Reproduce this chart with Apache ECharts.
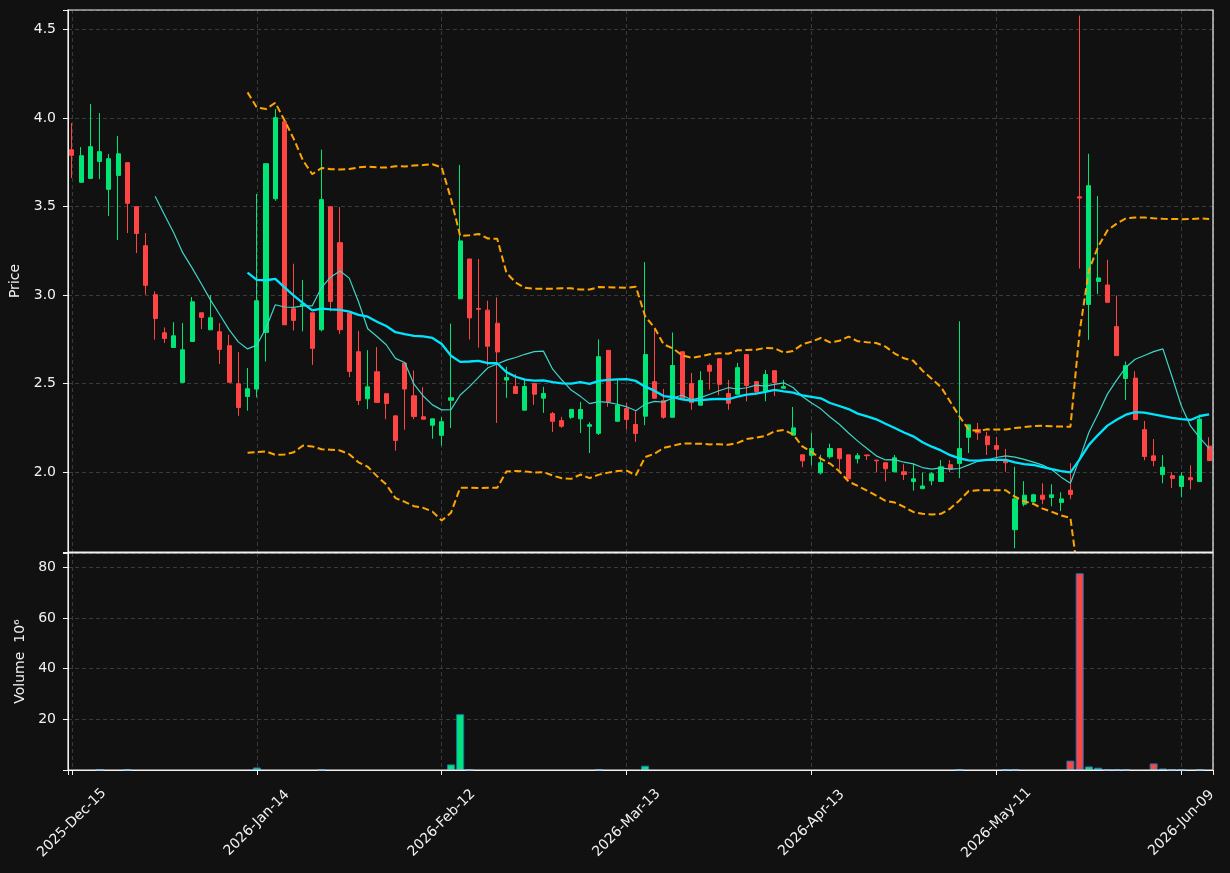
<!DOCTYPE html>
<html>
<head>
<meta charset="utf-8">
<script src="https://cdn.jsdelivr.net/npm/echarts@6/dist/echarts.min.js"></script>
<style>
html, body { margin: 0; padding: 0; background: #111111; }
#view { width: 1230px; height: 873px; }
</style>
</head>
<body>
<div id="view"></div>
<script>
// trading days (index = x position)
var dates = [
  '2025-12-15','2025-12-16','2025-12-17','2025-12-18','2025-12-19','2025-12-22','2025-12-23','2025-12-24','2025-12-26','2025-12-29',
  '2025-12-30','2025-12-31','2026-01-02','2026-01-05','2026-01-06','2026-01-07','2026-01-08','2026-01-09','2026-01-12','2026-01-13',
  '2026-01-14','2026-01-15','2026-01-16','2026-01-20','2026-01-21','2026-01-22','2026-01-23','2026-01-26','2026-01-27','2026-01-28',
  '2026-01-29','2026-01-30','2026-02-02','2026-02-03','2026-02-04','2026-02-05','2026-02-06','2026-02-09','2026-02-10','2026-02-11',
  '2026-02-12','2026-02-13','2026-02-17','2026-02-18','2026-02-19','2026-02-20','2026-02-23','2026-02-24','2026-02-25','2026-02-26',
  '2026-02-27','2026-03-02','2026-03-03','2026-03-04','2026-03-05','2026-03-06','2026-03-09','2026-03-10','2026-03-11','2026-03-12',
  '2026-03-13','2026-03-16','2026-03-17','2026-03-18','2026-03-19','2026-03-20','2026-03-23','2026-03-24','2026-03-25','2026-03-26',
  '2026-03-27','2026-03-30','2026-03-31','2026-04-01','2026-04-02','2026-04-06','2026-04-07','2026-04-08','2026-04-09','2026-04-10',
  '2026-04-13','2026-04-14','2026-04-15','2026-04-16','2026-04-17','2026-04-20','2026-04-21','2026-04-22','2026-04-23','2026-04-24',
  '2026-04-27','2026-04-28','2026-04-29','2026-04-30','2026-05-01','2026-05-04','2026-05-05','2026-05-06','2026-05-07','2026-05-08',
  '2026-05-11','2026-05-12','2026-05-13','2026-05-14','2026-05-15','2026-05-18','2026-05-19','2026-05-20','2026-05-21','2026-05-22',
  '2026-05-26','2026-05-27','2026-05-28','2026-05-29','2026-06-01','2026-06-02','2026-06-03','2026-06-04','2026-06-05','2026-06-08',
  '2026-06-09','2026-06-10','2026-06-11','2026-06-12'
];
var monthNames = ['Jan','Feb','Mar','Apr','May','Jun','Jul','Aug','Sep','Oct','Nov','Dec'];

var opens = [
  3.821, 3.637, 3.659, 3.755, 3.597, 3.676, 3.748, 3.499, 3.279, 3.002,
  2.787, 2.704, 2.507, 2.738, 2.900, 2.804, 2.793, 2.714, 2.499, 2.427,
  2.469, 2.789, 3.544, 3.979, 2.923, 2.940, 2.900, 2.804, 3.499, 3.296,
  2.898, 2.680, 2.414, 2.567, 2.443, 2.318, 2.616, 2.431, 2.313, 2.265,
  2.208, 2.406, 2.979, 3.204, 2.924, 2.915, 2.841, 2.520, 2.484, 2.350,
  2.501, 2.418, 2.331, 2.291, 2.310, 2.301, 2.259, 2.219, 2.688, 2.287,
  2.359, 2.269, 2.316, 2.511, 2.404, 2.310, 2.680, 2.500, 2.378, 2.603,
  2.641, 2.444, 2.440, 2.664, 2.511, 2.457, 2.573, 2.474, 2.209, 2.098,
  2.095, 1.996, 2.087, 2.133, 2.098, 2.076, 2.097, 2.068, 2.053, 2.002,
  2.002, 1.947, 1.907, 1.951, 1.947, 2.042, 2.049, 2.197, 2.241, 2.203,
  2.150, 2.066, 1.675, 1.819, 1.833, 1.870, 1.857, 1.829, 1.898, 3.555,
  2.947, 3.077, 3.057, 2.822, 2.529, 2.531, 2.240, 2.092, 1.986, 1.980,
  1.919, 1.969, 1.947, 2.147
];
var highs = [
  3.972, 3.836, 4.079, 4.028, 3.797, 3.898, 3.748, 3.499, 3.350, 3.021,
  2.817, 2.847, 2.842, 2.989, 2.900, 3.000, 2.842, 2.776, 2.678, 2.588,
  3.571, 3.742, 4.051, 3.979, 3.177, 3.085, 2.900, 3.821, 3.499, 3.497,
  2.898, 2.798, 2.689, 2.706, 2.443, 2.318, 2.616, 2.574, 2.480, 2.301,
  2.310, 2.839, 3.735, 3.204, 3.204, 2.968, 2.987, 2.595, 2.554, 2.527,
  2.501, 2.482, 2.340, 2.312, 2.354, 2.397, 2.282, 2.750, 2.688, 2.520,
  2.391, 2.344, 3.186, 2.805, 2.470, 2.789, 2.680, 2.560, 2.570, 2.613,
  2.641, 2.521, 2.617, 2.664, 2.511, 2.577, 2.573, 2.521, 2.368, 2.098,
  2.222, 2.098, 2.161, 2.133, 2.098, 2.108, 2.097, 2.068, 2.053, 2.097,
  2.045, 2.049, 1.998, 2.000, 2.068, 2.068, 2.852, 2.267, 2.278, 2.227,
  2.199, 2.131, 2.030, 1.949, 1.878, 1.937, 1.931, 1.886, 2.051, 4.579,
  3.798, 3.559, 3.199, 2.998, 2.625, 2.570, 2.289, 2.187, 2.096, 2.000,
  2.000, 2.039, 2.324, 2.197
];
var lows = [
  3.661, 3.633, 3.655, 3.655, 3.446, 3.311, 3.350, 3.237, 3.002, 2.748,
  2.729, 2.704, 2.507, 2.738, 2.808, 2.804, 2.610, 2.507, 2.318, 2.347,
  2.422, 2.625, 3.533, 2.832, 2.800, 2.795, 2.606, 2.795, 2.908, 2.780,
  2.537, 2.379, 2.356, 2.394, 2.299, 2.121, 2.239, 2.299, 2.299, 2.189,
  2.149, 2.250, 2.979, 2.749, 2.703, 2.601, 2.278, 2.420, 2.444, 2.350,
  2.380, 2.335, 2.227, 2.250, 2.301, 2.221, 2.108, 2.210, 2.369, 2.287,
  2.241, 2.171, 2.265, 2.417, 2.301, 2.310, 2.410, 2.352, 2.378, 2.466,
  2.434, 2.352, 2.440, 2.400, 2.438, 2.400, 2.429, 2.474, 2.209, 2.028,
  2.038, 1.987, 2.076, 2.013, 1.962, 2.049, 2.068, 2.000, 1.947, 2.002,
  1.956, 1.896, 1.907, 1.926, 1.947, 2.000, 1.966, 2.108, 2.182, 2.097,
  2.053, 2.002, 1.570, 1.807, 1.827, 1.819, 1.807, 1.780, 1.847, 3.150,
  2.747, 3.006, 2.959, 2.658, 2.407, 2.297, 2.067, 2.033, 1.937, 1.910,
  1.858, 1.902, 1.947, 2.065
];
var closes = [
  3.789, 3.787, 3.838, 3.810, 3.770, 3.798, 3.518, 3.348, 3.055, 2.868,
  2.755, 2.770, 2.691, 2.962, 2.874, 2.872, 2.693, 2.507, 2.365, 2.471,
  2.968, 3.742, 4.002, 2.832, 2.857, 2.950, 2.699, 3.539, 2.964, 2.804,
  2.569, 2.405, 2.482, 2.394, 2.388, 2.179, 2.469, 2.314, 2.299, 2.301,
  2.285, 2.420, 3.306, 2.871, 2.920, 2.711, 2.679, 2.535, 2.444, 2.484,
  2.440, 2.444, 2.287, 2.259, 2.354, 2.354, 2.268, 2.652, 2.397, 2.378,
  2.297, 2.218, 2.664, 2.417, 2.310, 2.602, 2.410, 2.393, 2.517, 2.570,
  2.496, 2.389, 2.590, 2.489, 2.455, 2.551, 2.506, 2.483, 2.250, 2.064,
  2.133, 2.053, 2.133, 2.076, 1.962, 2.093, 2.093, 2.064, 2.019, 2.081,
  1.987, 1.962, 1.922, 1.991, 2.030, 2.017, 2.133, 2.267, 2.222, 2.155,
  2.129, 2.053, 1.849, 1.870, 1.872, 1.847, 1.872, 1.849, 1.874, 3.548,
  3.618, 3.097, 2.959, 2.658, 2.601, 2.297, 2.088, 2.065, 2.028, 1.965,
  1.978, 1.957, 2.299, 2.065
];
// volume in millions
var volumes = [
  0, 0, 0, 0.2, 0, 0, 0.2, 0, 0, 0,
  0, 0, 0, 0, 0, 0, 0, 0, 0, 0,
  1.0, 0, 0, 0, 0, 0, 0, 0.15, 0, 0,
  0, 0, 0, 0, 0, 0, 0, 0, 0, 0,
  0, 2.2, 22.0, 0.2, 0, 0, 0, 0, 0, 0,
  0, 0, 0, 0, 0, 0, 0, 0.2, 0, 0,
  0, 0, 1.7, 0, 0, 0, 0, 0, 0, 0,
  0, 0, 0, 0, 0, 0, 0, 0, 0, 0,
  0, 0, 0, 0, 0, 0, 0, 0, 0, 0,
  0, 0, 0, 0, 0, 0, 0.2, 0, 0, 0,
  0, 0.2, 0.2, 0, 0, 0, 0, 0, 3.7, 77.6,
  1.4, 0.9, 0.2, 0.2, 0.2, 0, 0, 2.6, 0.6, 0.2,
  0.2, 0, 0.2, 0
];

var upColor = '#00e676';
var downColor = '#ff4444';
var fg = '#f2f2f2';

/* indicators derived from closes: SMA10, SMA20, Bollinger(20, 2) */
function sma(src, n) {
  return src.map(function (v, i) {
    if (i < n - 1) return [i, null];
    var s = 0;
    for (var k = i - n + 1; k <= i; k++) s += src[k];
    return [i, s / n];
  });
}
function band(src, n, mult) {
  return src.map(function (v, i) {
    if (i < n - 1) return [i, null];
    var s = 0, k;
    for (k = i - n + 1; k <= i; k++) s += src[k];
    var m = s / n, q = 0;
    for (k = i - n + 1; k <= i; k++) q += (src[k] - m) * (src[k] - m);
    return [i, m + mult * Math.sqrt(q / n)];
  });
}

var candles = dates.map(function (d, i) {
  return [i, opens[i], closes[i], lows[i], highs[i]];
});
var volData = volumes.map(function (v, i) {
  var up = closes[i] >= opens[i];
  return {
    value: [i, v],
    itemStyle: { color: up ? upColor : downColor, borderWidth: v > 0 ? 1 : 0 }
  };
});

function xLabel(v) {
  var i = Math.round(v);
  if (Math.abs(v - i) > 1e-6 || i % 20 !== 0 || !dates[i]) return '';
  var p = dates[i].split('-');
  return p[0] + '-' + monthNames[+p[1] - 1] + '-' + p[2];
}

var gridLine = { show: true, lineStyle: { color: '#3a3a3a', type: [4, 3], width: 1 } };

function xAxisCfg(idx, withLabels) {
  return {
    type: 'value', gridIndex: idx,
    min: -0.42, max: 123.42, minInterval: 20, maxInterval: 20,
    axisLine: { show: true, onZero: false, lineStyle: { color: fg, width: 1 } },
    axisTick: { show: withLabels, length: 5, lineStyle: { color: fg } },
    axisLabel: {
      show: withLabels, rotate: 45, align: 'center', verticalAlign: 'middle', margin: 53,
      color: fg, fontSize: 14, fontFamily: 'DejaVu Sans', formatter: xLabel
    },
    splitLine: gridLine
  };
}

var myChart = echarts.init(document.getElementById('view'));

var option = {
  backgroundColor: '#111111',
  animation: false,
  // grids sit above the dashed split lines so the frame stays solid
  grid: [
    { left: 68, right: 17, top: 10, height: 542, show: true, z: 5, backgroundColor: 'transparent',
      borderColor: fg, borderWidth: 1.2, outerBoundsMode: 'none' },
    { left: 68, right: 17, top: 553, height: 217, show: true, z: 5, backgroundColor: 'transparent',
      borderColor: fg, borderWidth: 1.2, outerBoundsMode: 'none' }
  ],
  xAxis: [xAxisCfg(0, false), xAxisCfg(1, true)],
  yAxis: [
    {
      type: 'value', gridIndex: 0, min: 1.549, max: 4.61, minInterval: 0.5, maxInterval: 0.5,
      name: 'Price', nameLocation: 'middle', nameRotate: 90, nameGap: 41,
      nameTextStyle: { color: fg, fontSize: 14, fontFamily: 'DejaVu Sans' },
      axisLine: { show: true, onZero: false, lineStyle: { color: fg } },
      axisTick: { show: true, length: 5, lineStyle: { color: fg } },
      axisLabel: {
        color: fg, fontSize: 14, fontFamily: 'DejaVu Sans', margin: 12,
        formatter: function (v) {
          var r = Math.round(v * 2) / 2;
          return Math.abs(v - r) < 1e-6 ? v.toFixed(1) : '';
        }
      },
      splitLine: gridLine
    },
    {
      type: 'value', gridIndex: 1, min: 0, max: 85.6, minInterval: 20, maxInterval: 20,
      name: 'Volume  10\u2076', nameLocation: 'middle', nameRotate: 90, nameGap: 40,
      nameTextStyle: { color: fg, fontSize: 14, fontFamily: 'DejaVu Sans' },
      axisLine: { show: true, onZero: false, lineStyle: { color: fg } },
      axisTick: { show: true, length: 5, lineStyle: { color: fg } },
      axisLabel: {
        color: fg, fontSize: 14, fontFamily: 'DejaVu Sans', margin: 12,
        formatter: function (v) {
          return (v > 0 && Math.abs(v % 20) < 1e-6) ? String(v) : '';
        }
      },
      splitLine: gridLine
    }
  ],
  series: [
    {
      name: 'OHLC', type: 'candlestick', xAxisIndex: 0, yAxisIndex: 0,
      data: candles, encode: { x: 0, y: [1, 2, 3, 4] },
      barWidth: 4.6,
      itemStyle: {
        color: upColor, color0: downColor,
        borderColor: upColor, borderColor0: downColor, borderWidth: 1
      },
      z: 2
    },
    {
      name: 'SMA10', type: 'line', xAxisIndex: 0, yAxisIndex: 0,
      data: sma(closes, 10), showSymbol: false,
      lineStyle: { color: '#3fd4c8', width: 1.2 }, z: 3
    },
    {
      name: 'SMA20', type: 'line', xAxisIndex: 0, yAxisIndex: 0,
      data: sma(closes, 20), showSymbol: false,
      lineStyle: { color: '#00e5ff', width: 2.3 }, z: 4
    },
    {
      name: 'BB upper', type: 'line', xAxisIndex: 0, yAxisIndex: 0,
      data: band(closes, 20, 2), showSymbol: false,
      lineStyle: { color: '#ffa500', width: 2, type: [7, 3.5] }, z: 4
    },
    {
      name: 'BB lower', type: 'line', xAxisIndex: 0, yAxisIndex: 0,
      data: band(closes, 20, -2), showSymbol: false,
      lineStyle: { color: '#ffa500', width: 2, type: [7, 3.5] }, z: 4
    },
    {
      name: 'Volume', type: 'bar', xAxisIndex: 1, yAxisIndex: 1,
      data: volData, barWidth: 8,
      itemStyle: { borderColor: '#1f77b4' }
    }
  ]
};

myChart.setOption(option);
</script>
</body>
</html>
